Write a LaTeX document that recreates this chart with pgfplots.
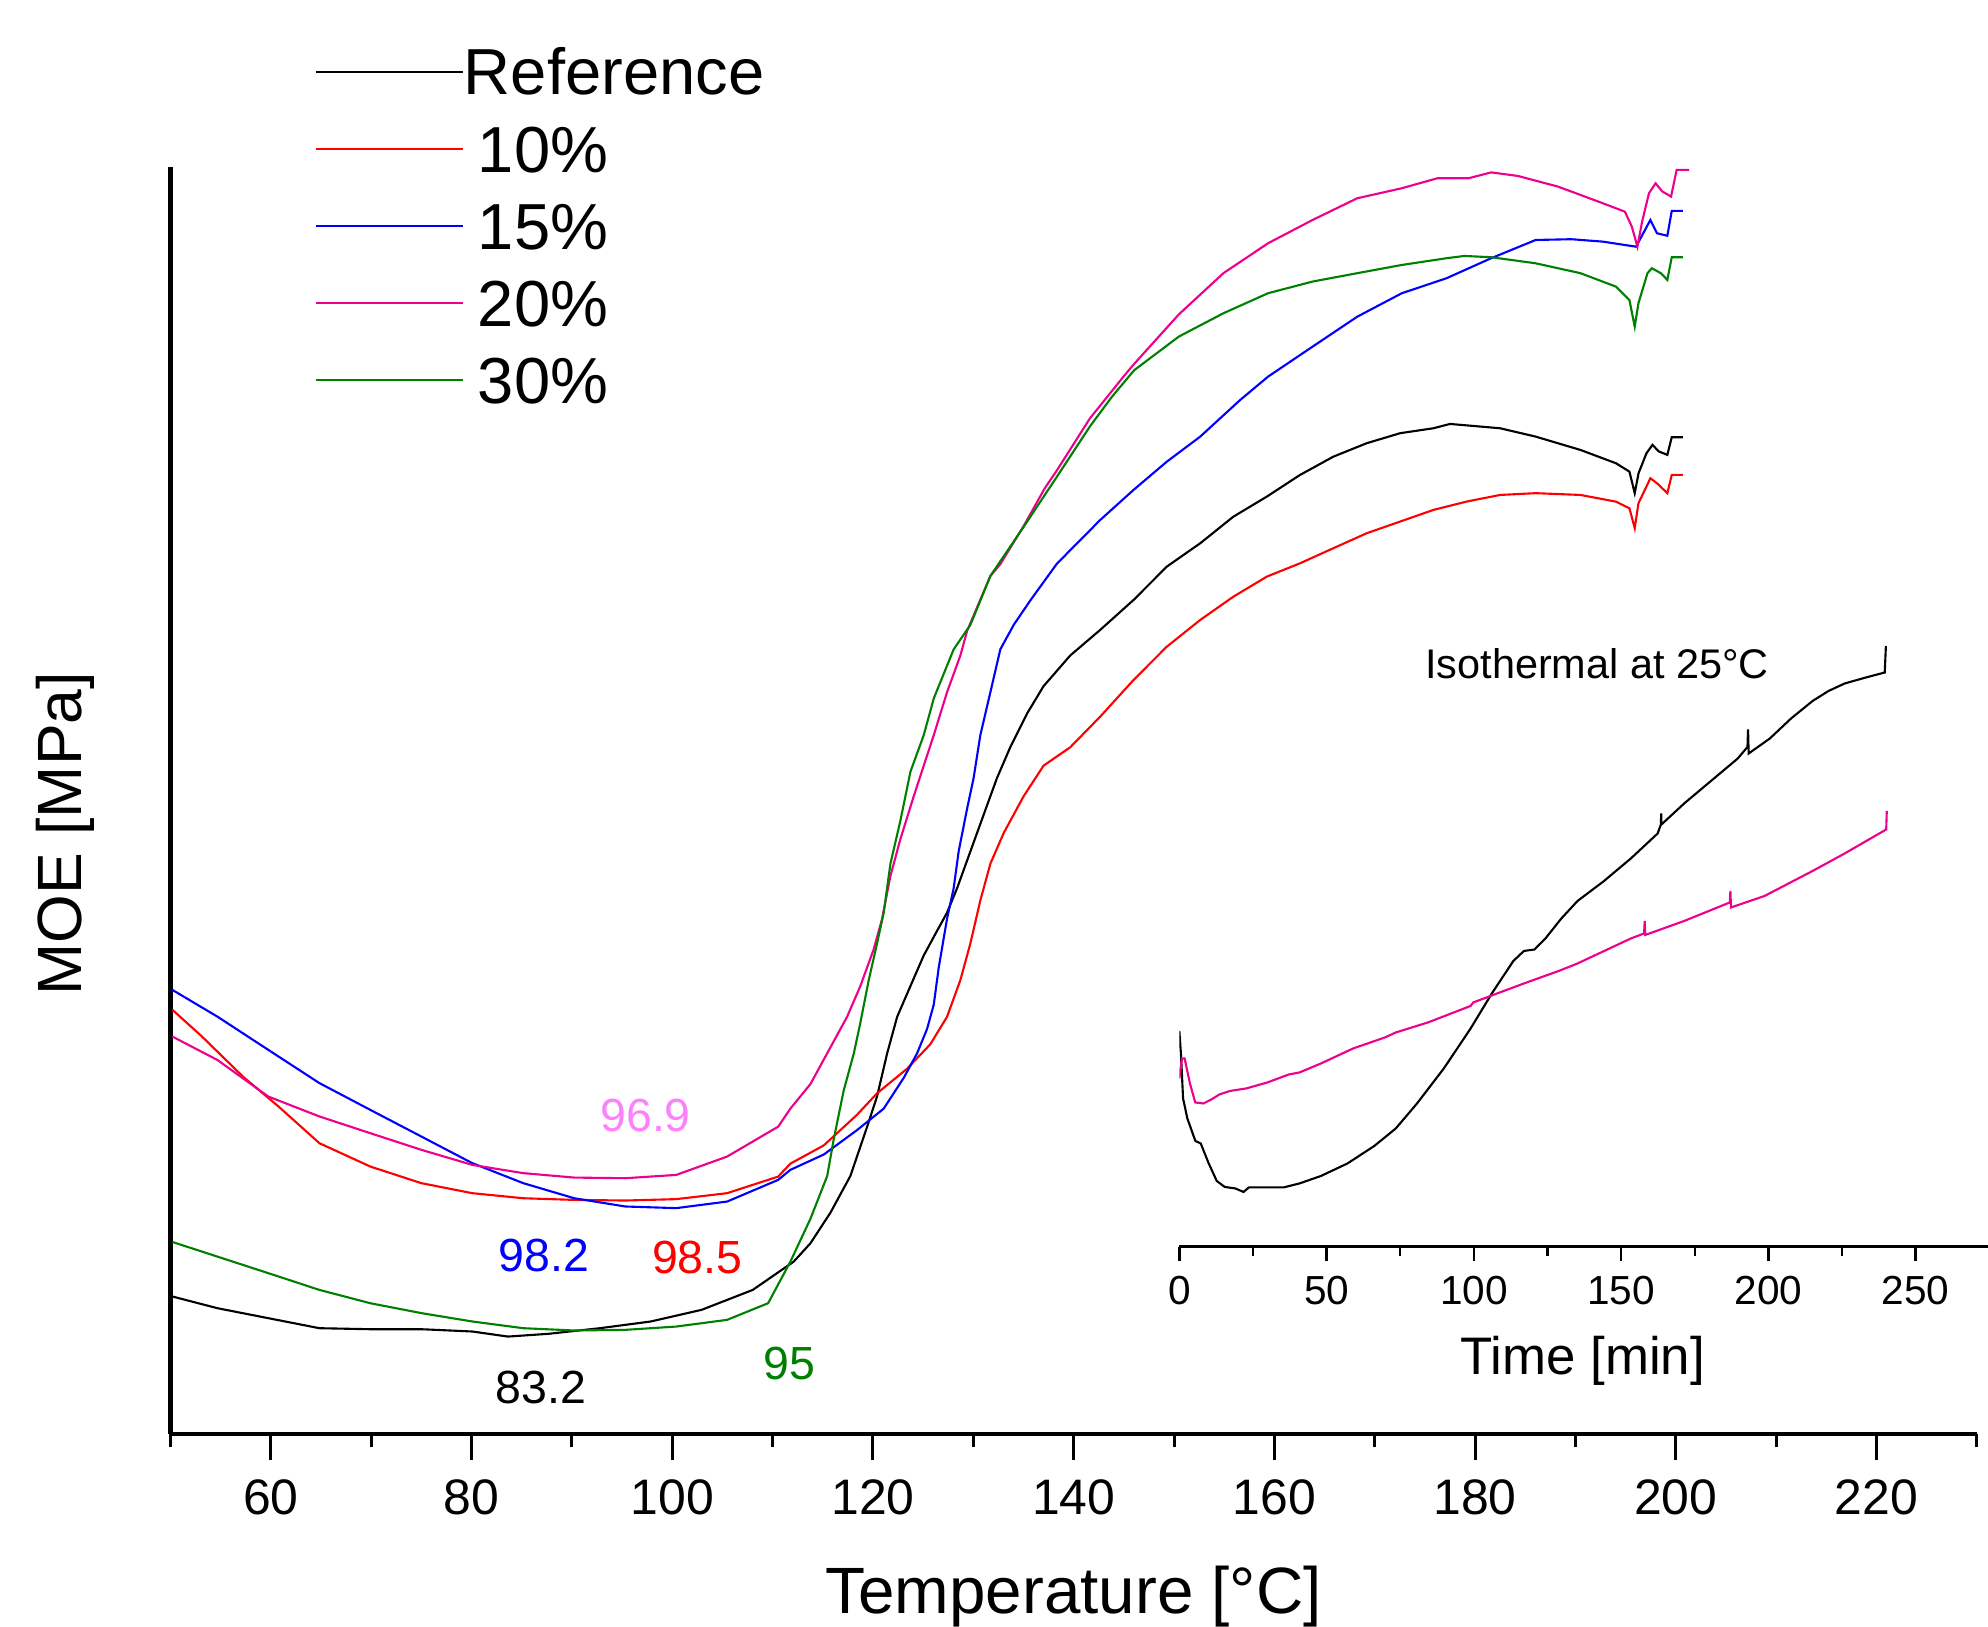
\documentclass[border=0pt]{standalone}
\usepackage{fontspec}
\setmainfont{Liberation Sans}
\usepackage{pgfplots}
\pgfplotsset{compat=1.18}
\definecolor{ogreen}{RGB}{0,128,0}
\definecolor{lmag}{RGB}{255,128,255}

\begin{document}
\begin{tikzpicture}
\useasboundingbox (-40.35pt,-45.6pt) rectangle (430.05pt,339.3pt);

% main DMA curves
\begin{axis}[
  at={(0pt,0pt)}, anchor=south west,
  scale only axis, width=427.4pt, height=299.85pt,
  xmin=50, xmax=230, ymin=0, ymax=999.5,
  axis x line=bottom, axis y line=left,
  axis line style={-, line width=1.05pt},
  every outer x axis line/.append style={-},
  every outer y axis line/.append style={-},
  xtick={60,80,...,220}, minor xtick={50,70,...,230}, ytick=\empty,
  tick align=outside, major tick length=6.15pt, minor tick length=3.15pt,
  every tick/.style={black, line width=0.7pt},
  /pgf/number format/assume math mode=true,
  xticklabel style={font=\fontsize{11.8}{12}\selectfont, inner sep=0pt, text height=8.45pt, text depth=0pt, anchor=north},
  xticklabel shift=4.35pt,
  xlabel={Temperature [°C]},
  xlabel style={font=\fontsize{15.5}{16}\selectfont, at={(axis description cs:0.5,-0.14207)}, anchor=base, inner sep=0pt},
  ylabel={MOE [MPa]},
  ylabel style={font=\fontsize{14.8}{16}\selectfont, at={(axis description cs:-0.05826,0.4737)}, anchor=center, inner sep=0pt},
  legend style={draw=none, fill=none, inner sep=0pt, outer sep=0pt,
    at={(axis description cs:0.07988,1.0934)}, anchor=north west,
    font=\fontsize{15.4}{16}\selectfont, row sep=7.21pt, column sep=0pt,
    nodes={inner sep=0pt, outer sep=0pt, text height=11.03pt, text depth=0pt}},
  legend cell align=left,
  legend image code/.code={\draw[#1] (0pt,0pt) -- (34.8pt,0pt);},
  every axis plot/.append style={line width=0.5pt, mark=none},
]
\addplot[black] coordinates {
(50.19,108.4) (54.66,99.2) (59.75,91.3) (64.84,83.4) (69.91,82.6) (74.99,82.6)
(80.07,80.8) (83.63,76.8) (87.69,79.0) (92.78,83.4) (97.86,88.7) (102.93,97.9)
(108.02,113.6) (112.10,135.9) (113.77,150.4) (115.76,174.5) (117.75,203.5)
(119.41,242.1) (120.41,266.3) (121.41,300.1) (122.41,329.0) (123.73,353.2)
(125.06,377.4) (126.38,396.7) (127.38,411.1) (128.38,430.4) (129.71,459.5)
(131.03,488.4) (132.36,517.4) (133.68,541.6) (135.35,568.1) (137.00,589.8)
(139.66,614.0) (142.65,634.2) (145.97,657.8) (149.29,684.1) (152.61,702.5)
(155.92,723.5) (159.25,739.3) (162.56,756.4) (165.88,770.8) (169.20,781.4)
(172.53,789.3) (175.85,793.2) (177.50,796.6) (182.49,793.2) (186.04,786.6)
(190.50,776.1) (194.04,765.6) (195.38,759.0) (195.91,742.0) (196.29,757.7)
(197.08,773.5) (197.68,780.1) (198.31,774.9) (199.16,772.2) (199.60,786.1)
(200.71,786.1)};
\addlegendentry{Reference}
\addplot[red] coordinates {
(50.19,334.5) (53.14,313.4) (57.21,281.9) (60.77,258.2) (64.84,229.3)
(69.91,210.9) (74.99,197.8) (80.07,189.9) (85.15,185.9) (90.23,184.6)
(95.32,184.1) (100.40,185.2) (105.47,189.9) (110.56,203.0) (111.77,213.2)
(115.10,227.6) (118.42,251.8) (120.41,268.7) (123.39,288.0) (125.71,307.3)
(127.38,329.0) (128.71,358.0) (129.71,387.0) (130.70,420.8) (131.70,449.8)
(133.03,474.0) (135.01,502.9) (137.00,527.1) (139.66,541.6) (142.65,565.8)
(145.97,594.7) (149.29,621.0) (152.61,642.0) (155.92,660.4) (159.25,676.2)
(162.56,686.7) (165.88,698.6) (169.20,710.4) (172.53,719.6) (175.85,728.8)
(179.17,735.4) (182.49,740.6) (186.04,742.0) (190.50,740.6) (194.04,735.3)
(195.38,730.1) (195.91,714.4) (196.28,734.0) (197.47,753.8) (198.13,749.8)
(199.16,742.0) (199.60,756.4) (200.71,756.4)};
\addlegendentry{\hspace{3.3pt}10\%}
\addplot[blue] coordinates {
(50.19,350.2) (54.66,329.2) (59.75,302.9) (64.84,276.7) (69.91,255.6)
(74.99,234.6) (80.07,213.6) (85.15,197.8) (90.23,185.9) (95.32,179.4)
(100.40,178.1) (105.47,183.3) (110.56,200.4) (111.77,208.3) (115.10,220.4)
(118.42,239.7) (121.07,256.6) (123.06,280.8) (124.39,300.1) (125.39,319.4)
(126.06,338.7) (126.55,367.7) (127.38,406.3) (128.04,430.4) (128.54,459.5)
(129.38,493.2) (130.03,517.4) (130.70,551.2) (131.70,585.0) (132.69,618.8)
(134.03,638.2) (135.68,657.4) (138.33,686.4) (142.65,720.9) (145.97,744.6)
(149.29,766.9) (152.61,786.6) (156.59,815.5) (159.37,833.9) (163.81,857.6)
(168.26,881.2) (172.70,899.7) (177.15,911.5) (181.60,927.3) (186.04,941.7)
(189.60,942.3) (192.72,940.4) (196.04,936.4) (197.47,957.5) (198.13,947.0)
(199.16,945.0) (199.60,964.6) (200.71,964.6)};
\addlegendentry{\hspace{3.3pt}15\%}
\addplot[magenta] coordinates {
(50.19,313.4) (54.66,295.0) (59.75,266.1) (64.84,250.4) (69.91,237.2)
(74.99,224.1) (80.07,212.2) (85.15,205.7) (90.23,202.2) (95.32,201.7)
(100.40,204.3) (105.47,218.8) (110.56,242.4) (111.77,256.6) (113.77,276.0)
(115.76,304.9) (117.42,329.0) (118.74,353.2) (120.07,382.2) (120.91,406.3)
(121.74,440.1) (122.73,469.1) (124.06,502.9) (125.06,527.1) (126.06,551.2)
(127.38,585.0) (128.71,614.0) (129.38,633.3) (131.70,676.7) (132.69,686.0)
(135.01,716.0) (137.13,746.0) (138.33,760.0) (141.62,801.0) (144.97,834.0)
(146.03,844.0) (150.48,883.0) (154.92,915.5) (159.37,939.1) (163.81,957.5)
(168.26,974.6) (172.70,982.5) (176.26,990.4) (179.37,990.4) (181.60,995.0)
(184.27,992.2) (188.26,983.8) (192.72,970.7) (194.93,964.0) (195.62,952.2)
(196.18,936.4) (196.63,955.6) (197.33,978.6) (197.99,986.4) (198.65,980.0)
(199.53,975.9) (200.09,997.0) (201.34,997.0)};
\addlegendentry{\hspace{3.3pt}20\%}
\addplot[ogreen] coordinates {
(50.19,151.4) (54.66,139.9) (59.75,126.8) (64.84,113.6) (69.91,103.1)
(74.99,95.3) (80.07,88.7) (85.15,83.4) (90.23,81.6) (95.32,82.1) (100.40,84.7)
(105.47,90.0) (109.55,103.1) (111.77,135.9) (113.77,169.7) (115.44,203.5)
(116.09,232.5) (117.09,271.1) (118.09,300.1) (118.74,324.2) (119.58,358.0)
(120.41,387.0) (121.07,411.1) (121.74,449.8) (122.73,483.6) (123.73,522.2)
(125.06,551.2) (126.06,580.2) (128.04,618.8) (129.71,638.2) (131.70,676.7)
(135.01,715.4) (138.33,755.0) (141.65,795.0) (143.81,818.0) (146.03,839.0)
(150.48,865.5) (154.92,883.9) (159.37,899.7) (163.81,908.9) (168.26,915.5)
(172.70,922.0) (177.15,927.3) (178.93,929.1) (181.60,928.1) (186.04,923.3)
(190.50,915.5) (194.04,904.9) (195.38,894.4) (195.91,873.4) (196.28,891.8)
(197.18,915.5) (197.62,919.4) (198.51,915.5) (199.16,910.2) (199.60,928.1)
(200.71,928.1)};
\addlegendentry{\hspace{3.3pt}30\%}

\node[anchor=base, inner sep=0pt, font=\fontsize{11}{12}\selectfont, text=lmag] at (axis cs:97.34,238.6) {96.9};
\node[anchor=base, inner sep=0pt, font=\fontsize{11}{12}\selectfont, text=blue] at (axis cs:87.18,128.2) {98.2};
\node[anchor=base, inner sep=0pt, font=\fontsize{11}{12}\selectfont, text=red] at (axis cs:102.5,126.3) {98.5};
\node[anchor=base, inner sep=0pt, font=\fontsize{11}{12}\selectfont, text=black] at (axis cs:86.94,23.8) {83.2};
\node[anchor=base, inner sep=0pt, font=\fontsize{11}{12}\selectfont, text=ogreen] at (axis cs:111.67,42.7) {95};
\end{axis}

% inset: isothermal run
\begin{axis}[
  at={(238.7pt,44.25pt)}, anchor=south west,
  scale only axis, width=191.3pt, height=148.7pt,
  xmin=0, xmax=274.5, ymin=0, ymax=1257,
  axis x line=bottom, axis y line=none,
  axis line style={-, line width=0.7pt},
  every outer x axis line/.append style={-},
  xtick={0,50,...,250}, minor xtick={25,75,...,275}, ytick=\empty,
  tick align=outside, major tick length=3.3pt, minor tick length=2.1pt,
  every tick/.style={black, line width=0.55pt},
  /pgf/number format/assume math mode=true,
  xticklabel style={font=\fontsize{9.6}{10}\selectfont, inner sep=0pt, text height=6.87pt, text depth=0pt, anchor=north},
  xticklabel shift=3.15pt,
  xlabel={Time [min]},
  xlabel style={font=\fontsize{12.5}{13}\selectfont, at={(axis description cs:0.499,-0.2028)}, anchor=base, inner sep=0pt},
  every axis plot/.append style={line width=0.5pt, mark=none},
]
\addplot[black] coordinates {
(0,432) (0.54,387) (1.27,297) (2.72,257) (5.44,212) (7.26,207) (9.98,167)
(12.7,132) (15.4,120) (19.0,117) (21.8,110) (23.6,119) (26.3,119) (35.4,119)
(40.8,127) (48.1,142) (57.1,167) (66.2,202) (73.5,237) (80.7,287) (89.8,357)
(98.9,437) (106.1,507) (113.4,572) (117.0,592) (120.6,595) (124.3,617)
(129.7,657) (135.2,692) (144.2,732) (153.3,777) (162.4,827) (163.5,845)
(163.6,867) (163.7,845) (171.4,887) (180.5,932) (189.6,977) (192.9,1000)
(193.1,1035) (193.3,987) (200.5,1017) (207.7,1057) (215.0,1092) (220.4,1112)
(225.9,1127) (233.1,1139) (239.5,1149) (239.9,1202)};
\addplot[magenta] coordinates {
(0,337) (0.9,377) (1.8,377) (3.6,327) (5.4,289) (8.2,287) (10.9,295)
(13.6,305) (17.2,312) (22.7,317) (29.9,329) (37.2,345) (40.8,349) (48.1,367)
(59.0,397) (69.8,419) (73.5,429) (84.4,449) (98.9,482) (99.8,489) (107.9,507)
(117.0,527) (128.8,552) (135.2,567) (153.3,617) (157.8,627) (158.0,652)
(158.2,624) (171.4,652) (186.9,689) (187.1,712) (187.3,679) (198.7,702)
(215.0,752) (225.9,787) (240.0,835) (240.2,872)};
\node[anchor=base, inner sep=0pt, font=\fontsize{9.8}{10}\selectfont] at (axis cs:141.8,1137) {Isothermal at 25°C};
\end{axis}
\end{tikzpicture}
\end{document}
